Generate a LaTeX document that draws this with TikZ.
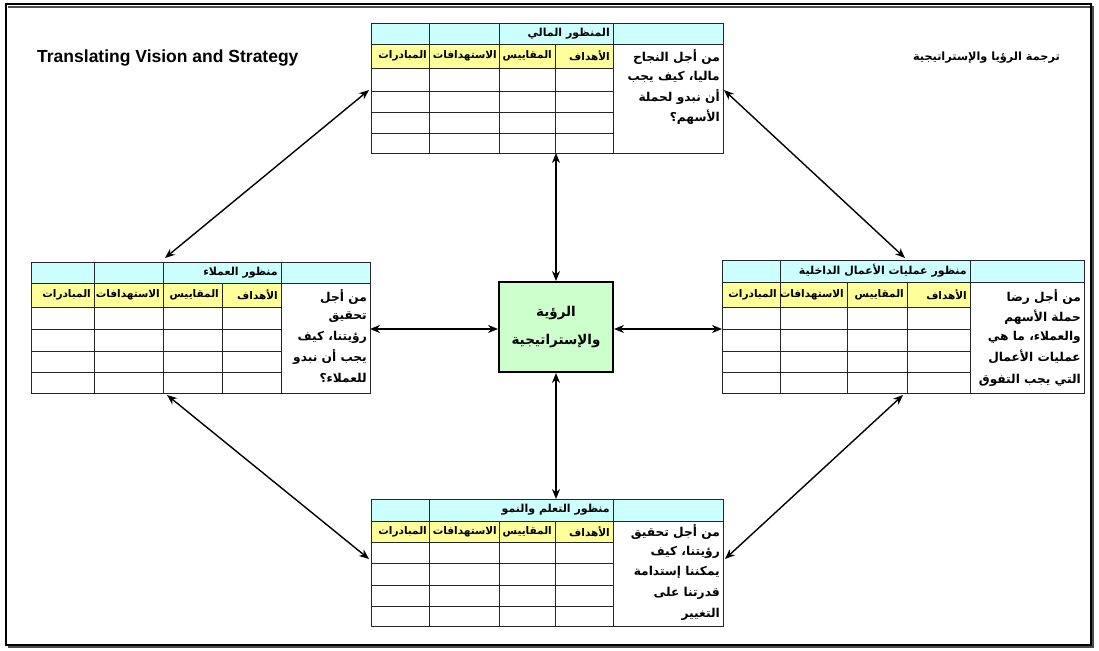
\documentclass[tikz,border=0pt]{standalone}
\usepackage{fontspec}
\setmainfont{Liberation Sans}
\newfontfamily\arabicfont[Script=Arabic]{DejaVu Sans}
\TeXXeTstate=1
\usetikzlibrary{arrows.meta}
\definecolor{hdrcyan}{RGB}{204,255,255}
\definecolor{colyellow}{RGB}{255,255,153}
\definecolor{coregreen}{RGB}{204,255,204}
\newcommand\artext[1]{{\arabicfont\bfseries\beginR #1\endR}}
% one row of column titles: prefix, centre y, right edges of the four cells
\newcommand\measurerow[6]{%
  \node[colhead] (#1-obj) at (#3,#2) {\artext{الأهداف}};
  \node[colhead] (#1-mea) at (#4,#2) {\artext{المقاييس}};
  \node[colhead] (#1-tgt) at (#5,#2) {\artext{الاستهدافات}};
  \node[colhead] (#1-ini) at (#6,#2) {\artext{المبادرات}};
}
\tikzset{
  grid/.style={draw=black!85, line width=0.8pt},
  colhead/.style={anchor=east, inner sep=0pt, font=\fontsize{10.5}{12}\selectfont},
  title/.style={anchor=east, inner sep=0pt, font=\fontsize{11}{13}\selectfont},
  question/.style={anchor=east, inner sep=0pt, font=\fontsize{12.2}{14}\selectfont},
  link/.style={line width=1.4pt, {Stealth[length=10pt,width=8pt]}-{Stealth[length=10pt,width=8pt]}},
}
\begin{document}
\begin{tikzpicture}[x=1pt,y=-1pt]
\useasboundingbox (0,0) rectangle (1099,650);
% page frame with a slight shadow
\draw[black!70, line width=1.5pt] (8,7) -- (1093,7) -- (1093,647) -- (8,647);
\draw[black, line width=1.2pt] (6,4) rectangle (1091,645);

% titles
\node[anchor=west, inner sep=0pt, font=\fontsize{17.5}{20}\selectfont\bfseries] (entitle) at (37,58) {Translating Vision and Strategy};
\node[anchor=east, inner sep=0pt, font=\fontsize{11.3}{14}\selectfont] (artitle) at (1060,58) {\artext{ترجمة الرؤيا والإستراتيجية}};

% ---------- financial perspective (top)
\fill[hdrcyan] (371,23) rectangle (723,44);
\fill[colyellow] (371,44) rectangle (613,68);
\draw[grid] (371,23) rectangle (723,153);
\draw[grid] (371,44) -- (723,44);
\foreach \y in {68,91,112,133} \draw[grid] (371,\y) -- (613,\y);
\foreach \x in {429,499,613} \draw[grid] (\x,23) -- (\x,153);
\draw[grid] (555,44) -- (555,153);
\node[title] (fin-title) at (610,33.5) {\artext{المنظور المالي}};
\measurerow{fin}{56}{610}{552}{497}{427}
\node[question] (fin-q1) at (720,57) {\artext{من أجل النجاح}};
\node[question] (fin-q2) at (720,77) {\artext{ماليا، كيف يجب}};
\node[question] (fin-q3) at (720,97) {\artext{أن نبدو لحملة}};
\node[question] (fin-q4) at (720,117) {\artext{الأسهم؟}};

% ---------- customer perspective (left)
\fill[hdrcyan] (31,262) rectangle (370,283);
\fill[colyellow] (31,283) rectangle (281,307);
\draw[grid] (31,262) rectangle (370,393);
\draw[grid] (31,283) -- (370,283);
\foreach \y in {307,329,351,372} \draw[grid] (31,\y) -- (281,\y);
\foreach \x in {94,163,281} \draw[grid] (\x,262) -- (\x,393);
\draw[grid] (222,283) -- (222,393);
\node[title] (cus-title) at (278,272.5) {\artext{منظور العملاء}};
\measurerow{cus}{295}{278}{219}{160}{91}
\node[question] (cus-q1) at (367,297) {\artext{من أجل}};
\node[question] (cus-q2) at (367,317) {\artext{تحقيق}};
\node[question] (cus-q3) at (367,337) {\artext{رؤيتنا، كيف}};
\node[question] (cus-q4) at (367,357) {\artext{يجب أن نبدو}};
\node[question] (cus-q5) at (367,378) {\artext{للعملاء؟}};

% ---------- internal business process perspective (right)
\fill[hdrcyan] (722,260) rectangle (1084,282);
\fill[colyellow] (722,282) rectangle (970,307);
\draw[grid] (722,260) rectangle (1084,393);
\draw[grid] (722,282) -- (1084,282);
\foreach \y in {307,329,351,372} \draw[grid] (722,\y) -- (970,\y);
\foreach \x in {780,970} \draw[grid] (\x,260) -- (\x,393);
\foreach \x in {847,907} \draw[grid] (\x,282) -- (\x,393);
\node[title] (int-title) at (967,271) {\artext{منظور عمليات الأعمال الداخلية}};
\measurerow{int}{294.5}{967}{904}{844}{777}
\node[question] (int-q1) at (1081,297) {\artext{من أجل رضا}};
\node[question] (int-q2) at (1081,317) {\artext{حملة الأسهم}};
\node[question] (int-q3) at (1081,337) {\artext{والعملاء، ما هي}};
\node[question] (int-q4) at (1081,357) {\artext{عمليات الأعمال}};
\node[question] (int-q5) at (1081,380) {\artext{التي يجب التفوق}};

% ---------- learning and growth perspective (bottom)
\fill[hdrcyan] (371,499) rectangle (723,521);
\fill[colyellow] (371,521) rectangle (613,542);
\draw[grid] (371,499) rectangle (723,626);
\draw[grid] (371,521) -- (723,521);
\foreach \y in {542,563,585,606} \draw[grid] (371,\y) -- (613,\y);
\foreach \x in {429,613} \draw[grid] (\x,499) -- (\x,626);
\foreach \x in {499,555} \draw[grid] (\x,521) -- (\x,626);
\node[title] (lrn-title) at (610,510) {\artext{منظور التعلم والنمو}};
\measurerow{lrn}{531.5}{610}{552}{497}{427}
\node[question] (lrn-q1) at (720,532) {\artext{من أجل تحقيق}};
\node[question] (lrn-q2) at (720,552) {\artext{رؤيتنا، كيف}};
\node[question] (lrn-q3) at (720,572) {\artext{يمكننا إستدامة}};
\node[question] (lrn-q4) at (720,593) {\artext{قدرتنا على}};
\node[question] (lrn-q5) at (720,614) {\artext{التغيير}};

% ---------- vision and strategy (centre)
\node[draw=black, line width=2pt, fill=coregreen, minimum width=114pt, minimum height=90pt, inner sep=0pt] (vision) at (556,327) {};
\node[inner sep=0pt, font=\fontsize{13.5}{15}\selectfont] (vision-l1) at (556,313) {\artext{الرؤية}};
\node[inner sep=0pt, font=\fontsize{13.5}{15}\selectfont] (vision-l2) at (556,341) {\artext{والإستراتيجية}};

% connector end points on the table edges
\coordinate (fin-s) at (556,153);
\coordinate (fin-w) at (369,90);
\coordinate (fin-e) at (724,90);
\coordinate (cus-e) at (370,329);
\coordinate (cus-n) at (165,258);
\coordinate (cus-s) at (167,395);
\coordinate (int-w) at (722,329);
\coordinate (int-n) at (905,258);
\coordinate (int-s) at (903,395);
\coordinate (lrn-n) at (556,499);
\coordinate (lrn-w) at (369,559);
\coordinate (lrn-e) at (725,559);

% links
\draw[link] (vision.north) -- (fin-s);
\draw[link] (vision.south) -- (lrn-n);
\draw[link] (vision.west) ++(0,2) -- (cus-e);
\draw[link] (vision.east) ++(0,2) -- (int-w);
\draw[link] (fin-w) -- (cus-n);
\draw[link] (fin-e) -- (int-n);
\draw[link] (cus-s) -- (lrn-w);
\draw[link] (int-s) -- (lrn-e);
\end{tikzpicture}
\end{document}
